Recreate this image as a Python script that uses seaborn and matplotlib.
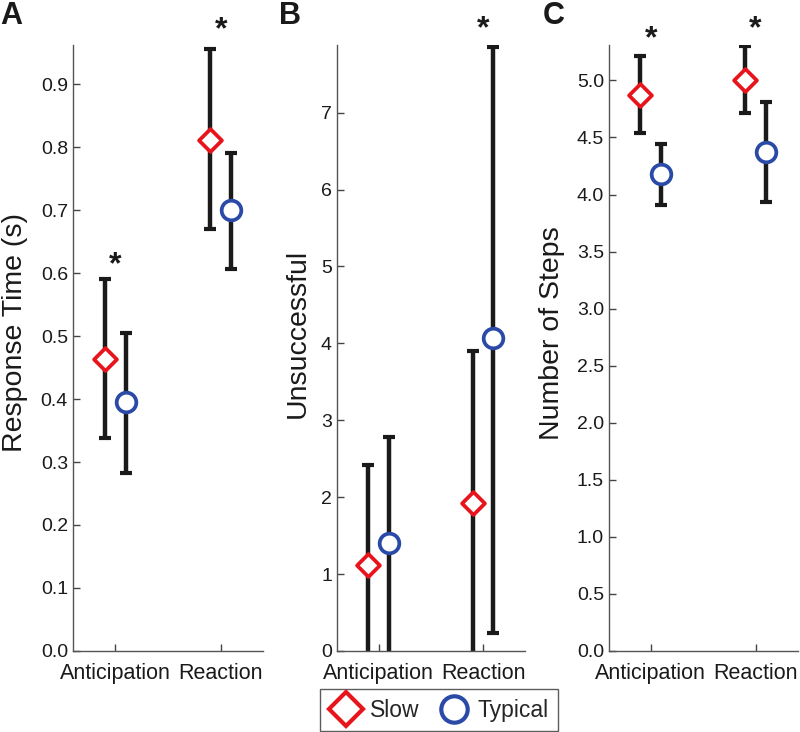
import matplotlib
matplotlib.use("Agg")
import matplotlib.pyplot as plt
import numpy as np
import pandas as pd
import seaborn as sns
from matplotlib.lines import Line2D

sns.set_style("white")
plt.rcParams["font.family"] = ["Liberation Sans", "DejaVu Sans"]

# Data
conditions = ["Anticipation", "Reaction"]
groups = ["Slow", "Typical"]

# A: response time (s)
rt_slow = [0.463, 0.812]
rt_slow_lo = [0.338, 0.670]
rt_slow_hi = [0.590, 0.955]
rt_typ = [0.395, 0.700]
rt_typ_lo = [0.282, 0.607]
rt_typ_hi = [0.505, 0.790]

# B: unsuccessful
un_slow = [1.12, 1.92]
un_slow_lo = [-0.3, -0.3]
un_slow_hi = [2.42, 3.90]
un_typ = [1.40, 4.07]
un_typ_lo = [-0.3, 0.24]
un_typ_hi = [2.78, 7.86]

# C: number of steps
st_slow = [4.875, 5.00]
st_slow_lo = [4.54, 4.71]
st_slow_hi = [5.21, 5.30]
st_typ = [4.18, 4.37]
st_typ_lo = [3.91, 3.93]
st_typ_hi = [4.44, 4.81]

# significance stars (condition index, y)
rt_stars = [(0, 0.613), (1, 0.985)]
un_stars = [(1, 8.09)]
st_stars = [(0, 5.36), (1, 5.45)]

colors = {"Slow": "#e8141c", "Typical": "#2b4aa8"}
markers = {"Slow": "D", "Typical": "o"}
sizes = {"Slow": 135, "Typical": 200}
offsets = {"Slow": -0.1, "Typical": 0.1}


def make_df(slow, slow_lo, slow_hi, typ, typ_lo, typ_hi):
    rows = []
    for g, m, lo, hi in [("Slow", slow, slow_lo, slow_hi), ("Typical", typ, typ_lo, typ_hi)]:
        for i, c in enumerate(conditions):
            rows.append({"condition": c, "group": g, "x": i + 1 + offsets[g],
                         "mean": m[i], "lo": lo[i], "hi": hi[i]})
    return pd.DataFrame(rows)


panels = [
    ("A", make_df(rt_slow, rt_slow_lo, rt_slow_hi, rt_typ, rt_typ_lo, rt_typ_hi),
     "Response Time (s)", 0.962, np.arange(0, 0.95, 0.1), "{:.1f}", rt_stars),
    ("B", make_df(un_slow, un_slow_lo, un_slow_hi, un_typ, un_typ_lo, un_typ_hi),
     "Unsuccessful", 7.88, np.arange(0, 8, 1), "{:.0f}", un_stars),
    ("C", make_df(st_slow, st_slow_lo, st_slow_hi, st_typ, st_typ_lo, st_typ_hi),
     "Number of Steps", 5.31, np.arange(0, 5.01, 0.5), "{:.1f}", st_stars),
]

fig = plt.figure(figsize=(8, 7.32), dpi=100)
lefts = [0.091, 0.421, 0.761]
widths = [0.238, 0.235, 0.236]
label_x = [15, 298, 552]
letter_x = [0, 279, 543]

for k, (letter, df, ylabel, ytop, yticks, fmt, stars) in enumerate(panels):
    ax = fig.add_axes([lefts[k], 0.1107, widths[k], 0.8278])
    for g in groups:
        d = df[df["group"] == g]
        ax.errorbar(d["x"], d["mean"],
                    yerr=[d["mean"] - d["lo"], d["hi"] - d["mean"]],
                    fmt="none", ecolor="#1a1a1a", elinewidth=3.2,
                    capsize=4, capthick=3, zorder=2)
        sns.scatterplot(data=d, x="x", y="mean", marker=markers[g], s=sizes[g],
                        color="white", edgecolor=colors[g], linewidth=2.7,
                        zorder=3, ax=ax, legend=False)
    for ci, sy in stars:
        ax.text(ci + 1, sy, "*", ha="center", va="center", fontsize=23,
                fontweight="bold", color="#1a1a1a", clip_on=False)

    ax.set_xlim(0.6, 2.4)
    ax.set_ylim(0, ytop)
    ax.set_xticks([1, 2])
    ax.set_xticklabels(conditions, fontsize=15.5, color="#1a1a1a")
    ax.set_yticks(yticks)
    ax.set_yticklabels([fmt.format(v) for v in yticks], fontsize=14, color="#1a1a1a")
    ax.tick_params(direction="in", length=5, width=1, color="#444444", left=True, bottom=True)
    ax.tick_params(axis="x", pad=9)
    ax.set_xlabel("")
    ax.set_ylabel("")
    for s in ["top", "right"]:
        ax.spines[s].set_visible(False)
    for s in ["left", "bottom"]:
        ax.spines[s].set_color("#555555")
        ax.spines[s].set_linewidth(1)

    fig.text(label_x[k] / 800, 1 - 333 / 732, ylabel, rotation=90, ha="center",
             va="center", fontsize=20.5, color="#1a1a1a")
    fig.text(letter_x[k] / 800, 1 - 16 / 732, letter, ha="left", va="center",
             fontsize=22, fontweight="bold", color="#1a1a1a")

handles = [Line2D([], [], linestyle="none", marker=markers[g], markersize=17 if g == "Slow" else 19,
                  markerfacecolor="white", markeredgecolor=colors[g], markeredgewidth=3, label=g)
           for g in groups]
leg = fig.legend(handles=handles, loc="center", bbox_to_anchor=(0.549, 0.030), ncol=2,
                 frameon=True, fancybox=False, fontsize=16.5, handletextpad=0.35,
                 columnspacing=0.8, borderpad=0.4, handlelength=1.4)
leg.get_frame().set_edgecolor("#333333")
leg.get_frame().set_linewidth(1)

fig.savefig("out.png", dpi=100)
